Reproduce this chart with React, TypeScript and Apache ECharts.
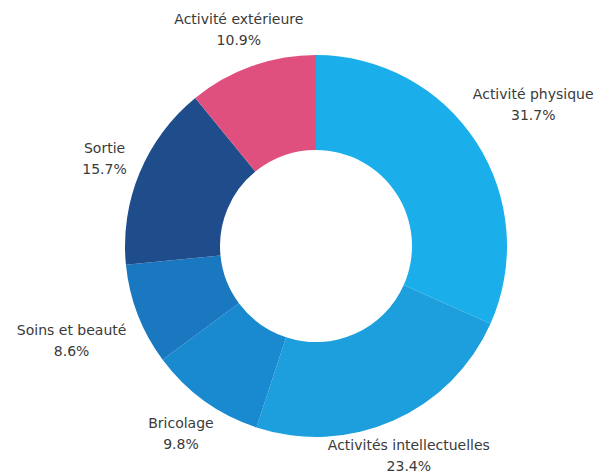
import React, { useEffect, useRef } from "react";
import * as echarts from "echarts";

const categories = [
  "Activité physique",
  "Activités intellectuelles",
  "Bricolage",
  "Soins et beauté",
  "Sortie",
  "Activité extérieure",
];
const values = [31.7, 23.4, 9.8, 8.6, 15.7, 10.9];
const valueLabels = ["31.7%", "23.4%", "9.8%", "8.6%", "15.7%", "10.9%"];
const colors = ["#1aaeea", "#1e9fdd", "#1a8ad0", "#1a78c0", "#1f4d8c", "#e0507f"];

// distance of each label's centre from the pie's centre (layout only)
const labelDistance = [259, 229, 231, 262, 229, 230];

const CX = 316;
const CY = 246;

export default function App() {
  const ref = useRef<HTMLDivElement>(null);
  useEffect(() => {
    if (!ref.current) return;
    const chart = echarts.init(ref.current, null, { renderer: "svg" });
    const total = values.reduce((a, b) => a + b, 0);
    const midAngles: number[] = [];
    let acc = 0;
    values.forEach((v) => {
      midAngles.push(((acc + v / 2) / total) * Math.PI * 2);
      acc += v;
    });
    const data = categories.map((name, i) => ({
      name,
      value: values[i],
      itemStyle: { color: colors[i] },
    }));
    chart.setOption({
      animation: false,
      series: [
        {
          type: "pie",
          center: [CX, CY],
          radius: [96, 191],
          startAngle: 90,
          clockwise: true,
          silent: true,
          itemStyle: { borderWidth: 0 },
          label: {
            show: true,
            position: "outside",
            alignTo: "none",
            overflow: "none",
            formatter: (p: any) => `${p.name}\n${valueLabels[p.dataIndex]}`,
            color: "#3a3a3a",
            fontFamily: "DejaVu Sans",
            fontSize: 14,
            lineHeight: 21,
            align: "center",
          },
          labelLine: { show: false },
          labelLayout: (p: any) => {
            const a = midAngles[p.dataIndex];
            const d = labelDistance[p.dataIndex];
            return {
              x: CX + Math.sin(a) * d,
              y: CY - Math.cos(a) * d,
              align: "center",
              verticalAlign: "middle",
            };
          },
          data,
        },
      ],
    });
    return () => chart.dispose();
  }, []);
  return (
    <div
      ref={ref}
      style={{ position: "fixed", left: 0, top: 0, width: 614, height: 474, background: "#fff" }}
    />
  );
}
